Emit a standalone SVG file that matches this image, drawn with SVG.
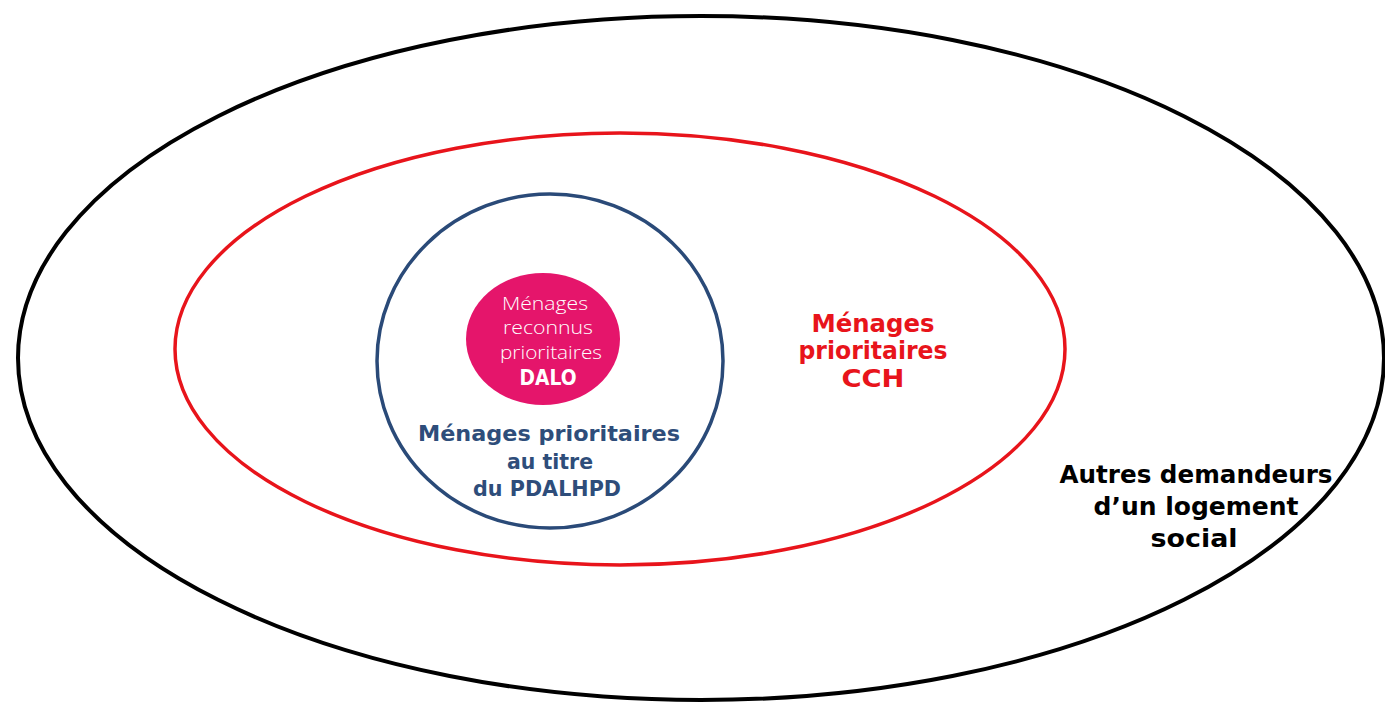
<svg xmlns="http://www.w3.org/2000/svg" width="1385" height="702" viewBox="0 0 1385 702">
<style>
.t{font-family:"DejaVu Sans","Liberation Sans",sans-serif;text-anchor:middle;font-weight:bold}
.k{font-size:24px;fill:#000}
.r{font-size:25px;fill:#e8141b}
.b{font-size:22px;fill:#2e4d7a}
.w{font-family:"Open Sans","DejaVu Sans",sans-serif;text-anchor:middle;font-weight:300;font-size:18px;fill:#fff}
</style>
<rect width="1385" height="702" fill="#fff"/>
<g id="autres">
<ellipse cx="701" cy="358" rx="683" ry="342" fill="none" stroke="#000" stroke-width="4"/>
<text class="t k" x="1196" y="483" textLength="273" lengthAdjust="spacingAndGlyphs">Autres demandeurs</text>
<text class="t k" x="1196" y="515" textLength="205" lengthAdjust="spacingAndGlyphs">d’un logement</text>
<text class="t k" x="1194" y="547" textLength="87" lengthAdjust="spacingAndGlyphs">social</text>
</g>
<g id="cch">
<ellipse cx="620" cy="349" rx="445" ry="216" fill="none" stroke="#e8141b" stroke-width="3.5"/>
<text class="t r" x="873" y="332" textLength="123" lengthAdjust="spacingAndGlyphs">Ménages</text>
<text class="t r" x="873" y="359" textLength="149" lengthAdjust="spacingAndGlyphs">prioritaires</text>
<text class="t r" x="873" y="387" textLength="63" lengthAdjust="spacingAndGlyphs">CCH</text>
</g>
<g id="pdalhpd">
<ellipse cx="550" cy="361" rx="173" ry="167" fill="none" stroke="#2a4a78" stroke-width="3.5"/>
<text class="t b" x="549" y="441" textLength="262" lengthAdjust="spacingAndGlyphs">Ménages prioritaires</text>
<text class="t b" x="550" y="469" textLength="86" lengthAdjust="spacingAndGlyphs">au titre</text>
<text class="t b" x="547" y="496" textLength="148" lengthAdjust="spacingAndGlyphs">du PDALHPD</text>
</g>
<g id="dalo">
<ellipse cx="543" cy="339" rx="77" ry="66" fill="#e5156b"/>
<text class="w" x="545" y="310" textLength="86" lengthAdjust="spacingAndGlyphs">Ménages</text>
<text class="w" x="548" y="334" textLength="90" lengthAdjust="spacingAndGlyphs">reconnus</text>
<text class="w" x="551" y="359" textLength="102" lengthAdjust="spacingAndGlyphs">prioritaires</text>
<text class="t" x="548" y="385" fill="#fff" font-size="22" textLength="57" lengthAdjust="spacingAndGlyphs">DALO</text>
</g>
<g id="connectors"/>
</svg>
